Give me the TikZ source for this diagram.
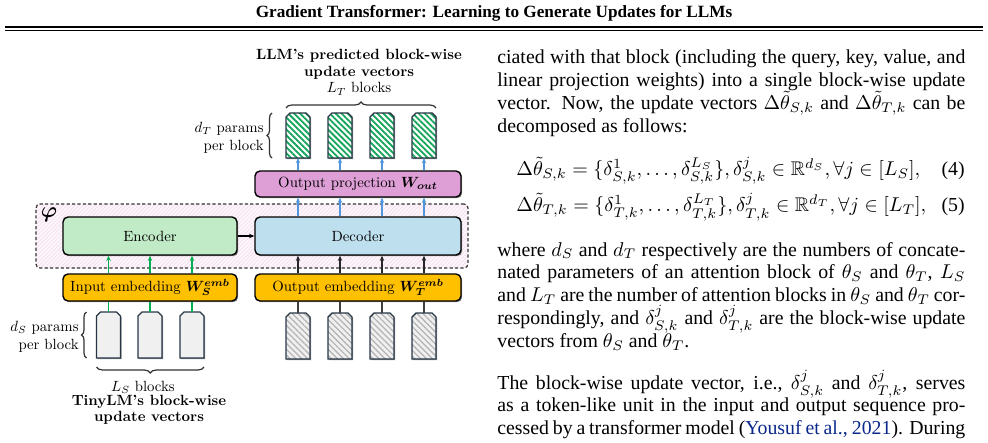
\documentclass[tikz,border=0pt]{standalone}
\usepackage{amsmath,amssymb}
\usepackage{bm}
\usepackage{graphicx}
\usepackage{fontspec}
\newfontfamily\timesfont{Liberation Serif}
\usetikzlibrary{patterns,patterns.meta,shadows,decorations.pathreplacing,arrows.meta}
\definecolor{projc}{RGB}{222,158,214}
\definecolor{encc}{RGB}{193,234,198}
\definecolor{decc}{RGB}{190,223,238}
\definecolor{embc}{RGB}{255,192,0}
\definecolor{arrblue}{RGB}{80,150,220}
\definecolor{arrgreen}{RGB}{0,176,80}
\definecolor{stripegreen}{RGB}{20,165,90}
\definecolor{blkedge}{RGB}{40,55,70}
\definecolor{citeblue}{RGB}{10,40,140}
\definecolor{pinkbg}{RGB}{253,246,251}
\definecolor{pinkline}{RGB}{244,218,238}
\definecolor{lightblk}{RGB}{240,240,240}
\newcommand\figfont{\fontsize{10}{12}\selectfont}
\newcommand\ft[1]{\scalebox{0.74}{#1}}
\newcommand\bodyfont{\timesfont\fontsize{9.9}{11.8}\selectfont}
\begin{document}
\begin{tikzpicture}[x=0.5pt,y=-0.5pt,
  figtext/.style={font=\figfont, inner sep=0pt},
  bodyline/.style={font=\bodyfont, inner sep=0pt, anchor=base west},
  shad/.style={drop shadow={shadow xshift=0.6pt, shadow yshift=-0.6pt, opacity=0.45, fill=black}},
  boxsty/.style={draw=black, line width=0.7pt, rounded corners=2.5pt, inner sep=0pt, font=\figfont, shad},
  container/.style={draw=black!80, line width=0.6pt, dash pattern=on 1.6pt off 1.1pt, rounded corners=2pt,
     preaction={fill=pinkbg}, pattern={Lines[angle=45,distance=1.4pt,line width=0.3pt]}, pattern color=pinkline},
  hold/.style={minimum width=12pt, minimum height=23pt, inner sep=0pt, outer sep=0pt},
  blockpath/.style={insert path={(#1.south west) -- ([yshift=-2pt]#1.north west) -- ([xshift=2pt]#1.north west) -- ([xshift=-2pt]#1.north east) -- ([yshift=-2pt]#1.north east) -- (#1.south east) -- cycle}},
  blkdraw/.style={draw=blkedge, line width=0.7pt, shad},
  greenblk/.style={blkdraw, preaction={fill=white}, pattern={Lines[angle=-45,distance=2.1pt,line width=0.9pt]}, pattern color=stripegreen},
  grayblk/.style={blkdraw, preaction={fill=lightblk}, pattern={Lines[angle=-45,distance=2.1pt,line width=0.6pt]}, pattern color=black!30},
  plainblk/.style={blkdraw, fill=lightblk},
  arr/.style={line width=0.6pt, -{Stealth[length=2.6pt,width=2.2pt]}},
  bracesty/.style={decorate, decoration={brace, amplitude=3pt}, line width=0.6pt, draw=black!80}
]
\useasboundingbox (0,0) rectangle (988,443);

% ---------- header ----------
\node[font=\timesfont\bfseries\fontsize{8.6}{10.3}\selectfont, anchor=base, inner sep=0pt] (hdr) at (494,18) {Gradient Transformer: Learning to Generate Updates for LLMs};
\coordinate (rl) at (5,27);
\coordinate (rr) at (983,27);
\draw[line width=1pt] (rl) -- (rr);
\draw[line width=0.4pt] ([yshift=-1.6pt]rl) -- ([yshift=-1.6pt]rr);

% ---------- figure ----------
\node[container, minimum width=216pt, minimum height=32pt] (phibox) at (252,236) {};
\node[font=\fontsize{10.5}{12}\selectfont, inner sep=0pt] (philab) at (49,215) {$\bm{\varphi}$};

\node[boxsty, fill=projc, minimum width=103pt, minimum height=13pt] (proj) at (358,184) {\ft{Output projection $\bm{W_{out}}$}};
\node[boxsty, fill=encc, minimum width=87pt, minimum height=19pt] (enc) at (150,236) {\ft{Encoder}};
\node[boxsty, fill=decc, minimum width=103pt, minimum height=19pt] (dec) at (358,236) {\ft{Decoder}};
\node[boxsty, fill=embc, minimum width=87pt, minimum height=13.5pt] (iemb) at (150,287.5) {\ft{Input embedding $\bm{W_S^{emb}}$}};
\node[boxsty, fill=embc, minimum width=103pt, minimum height=13.5pt] (oemb) at (358,287.5) {\ft{Output embedding $\bm{W_T^{emb}}$}};

\draw[arr, draw=black, fill=black] (enc.east) -- (dec.west);

% block holders
\foreach \i/\x in {1/298,2/340,3/382,4/424}{
  \node[hold, minimum height=22.5pt] (tg\i) at (\x,135.5) {};
  \node[hold] (bg\i) at (\x,336) {};
}
\foreach \i/\x in {1/108.5,2/150,3/192}{
  \node[hold] (lb\i) at (\x,335) {};
}
% blocks and connectors
\foreach \i in {1,...,4}{
  \path[greenblk, blockpath=tg\i];
  \path[grayblk, blockpath=bg\i];
  \draw[arr, draw=arrblue, fill=arrblue] (dec.north -| tg\i) -- (proj.south -| tg\i);
  \draw[arr, draw=arrblue, fill=arrblue] (proj.north -| tg\i) -- (tg\i.south);
  \draw[arr, draw=black!85, fill=black!85] (oemb.north -| bg\i) -- (dec.south -| bg\i);
  \draw[line width=0.7pt, draw=black!75] (bg\i.north) -- (oemb.south -| bg\i);
}
\foreach \i in {1,2,3}{
  \path[plainblk, blockpath=lb\i];
  \draw[arr, draw=arrgreen, fill=arrgreen] (iemb.north -| lb\i) -- (enc.south -| lb\i);
  \draw[line width=0.6pt, draw=arrgreen] (lb\i.north) -- (iemb.south -| lb\i);
}

% braces
\draw[bracesty] ([yshift=2.5pt]tg1.north west) -- ([yshift=2.5pt]tg4.north east);
\draw[bracesty, decoration={amplitude=2.5pt}] ([xshift=-7pt]tg1.south west) -- ([xshift=-7pt]tg1.north west);
\draw[bracesty, decoration={amplitude=2.5pt}] ([xshift=-5pt]lb1.south west) -- ([xshift=-5pt]lb1.north west);
\draw[bracesty] ([yshift=-4.5pt]lb3.south east) -- ([yshift=-4.5pt]lb1.south west);

% labels
\node[figtext] (toptitle) at (359,73) {\ft{\fontsize{10}{11.2}\selectfont\begin{tabular}{@{}c@{}}\textbf{LLM's predicted block-wise}\\\textbf{update vectors}\\$L_T$ blocks\end{tabular}}};
\node[figtext, anchor=east] (dtlab) at (264,138) {\ft{\begin{tabular}{@{}r@{}}$d_T$ params\\per block\end{tabular}}};
\node[figtext, anchor=east] (dslab) at (79,337) {\ft{\begin{tabular}{@{}r@{}}$d_S$ params\\per block\end{tabular}}};
\node[figtext] (lslab) at (143,387) {\ft{$L_S$ blocks}};
\node[figtext] (tinylab) at (149,410) {\ft{\fontsize{10}{11}\selectfont\begin{tabular}{@{}c@{}}\textbf{TinyLM's block-wise}\\\textbf{update vectors}\end{tabular}}};

% ---------- right column text ----------
\node[bodyline] (p1a) at (497,64) {\makebox[234pt][s]{ciated with that block (including the query, key, value, and}};
\node[bodyline] (p1b) at (497,86.8) {\makebox[234pt][s]{linear projection weights) into a single block-wise update}};
\node[bodyline] (p1c) at (497,109.6) {\makebox[234pt][s]{vector. Now, the update vectors $\Delta\tilde{\theta}_{S,k}$ and $\Delta\tilde{\theta}_{T,k}$ can be}};
\node[bodyline] (p1d) at (497,132.4) {\makebox[234pt][l]{decomposed as follows:}};

\node[bodyline] (eq4) at (516,176) {$\Delta\tilde{\theta}_{S,k} = \{\delta^1_{S,k},\ldots,\delta^{L_S}_{S,k}\}, \delta^j_{S,k}\in\mathbb{R}^{d_S}, \forall j\in[L_S],$};
\node[font=\bodyfont, inner sep=0pt, anchor=base east] (tag4) at (965,176) {(4)};
\node[bodyline] (eq5) at (516,212) {$\Delta\tilde{\theta}_{T,k} = \{\delta^1_{T,k},\ldots,\delta^{L_T}_{T,k}\}, \delta^j_{T,k}\in\mathbb{R}^{d_T}, \forall j\in[L_T],$};
\node[font=\bodyfont, inner sep=0pt, anchor=base east] (tag5) at (965,212) {(5)};

\node[bodyline] (p2a) at (497,256) {\makebox[234pt][s]{where $d_S$ and $d_T$ respectively are the numbers of concate-}};
\node[bodyline] (p2b) at (497,278.8) {\makebox[234pt][s]{nated parameters of an attention block of $\theta_S$ and $\theta_T$, $L_S$}};
\node[bodyline] (p2c) at (497,301.6) {\makebox[234pt][s]{and $L_T$ are the number of attention blocks in $\theta_S$ and $\theta_T$ cor-}};
\node[bodyline] (p2d) at (497,324.4) {\makebox[234pt][s]{respondingly, and $\delta^j_{S,k}$ and $\delta^j_{T,k}$ are the block-wise update}};
\node[bodyline] (p2e) at (497,347.2) {\makebox[234pt][l]{vectors from $\theta_S$ and $\theta_T$.}};

\node[bodyline] (p3a) at (497,389) {\makebox[234pt][s]{The block-wise update vector, i.e., $\delta^j_{S,k}$ and $\delta^j_{T,k}$, serves}};
\node[bodyline] (p3b) at (497,411.8) {\makebox[234pt][s]{as a token-like unit in the input and output sequence pro-}};
\node[bodyline] (p3c) at (497,434.6) {\makebox[234pt][s]{cessed by a transformer model (\textcolor{citeblue}{Yousuf et al., 2021}). During}};
\end{tikzpicture}
\end{document}
